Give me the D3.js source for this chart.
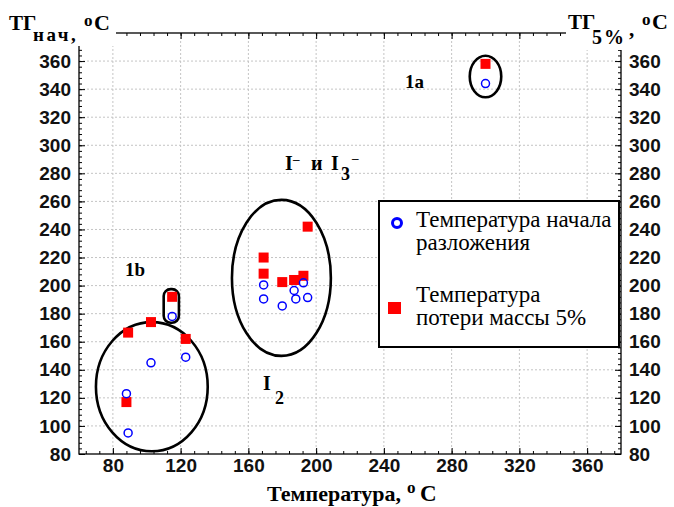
<!DOCTYPE html>
<html>
<head>
<meta charset="utf-8">
<script src="https://d3js.org/d3.v7.min.js"></script>
<style>
  body { margin: 0; background: #fff; }
  .tick-label { font-family: "Liberation Sans", Arial, sans-serif; font-weight: bold; font-size: 19px; fill: #111; }
  .serif { font-family: "Liberation Serif", "Times New Roman", serif; }
</style>
</head>
<body>
<svg id="chart" width="674" height="507"></svg>
<script>
// start of decomposition (open circles)
const startX = [115, 102.5, 123, 88, 89, 169, 169, 180, 187, 192.5, 188, 195, 300];
const startY = [178, 145, 149, 123, 95, 200.5, 190.5, 185.5, 196.5, 202, 190.5, 191.5, 344];
// 5% mass loss (red squares)
const lossX = [115, 102.5, 89, 123, 88, 195, 169, 169, 180, 187, 192.5, 300];
const lossY = [192, 174, 166.5, 162, 117, 242, 220, 208.5, 202.5, 204, 207, 358];
// tick values
const xTicks = [80, 120, 160, 200, 240, 280, 320, 360];
const yTicks = d3.range(80, 361, 20);
// group outlines, in data units
const groupEllipses = [
  {cx: 103, cy: 128, rx: 33, ry: 46},
  {cx: 179.5, cy: 205.5, rx: 29.2, ry: 55.6},
  {cx: 300, cy: 349, rx: 9.3, ry: 14.8}
];
const groupCapsule = {x0: 110, x1: 119, y0: 173.5, y1: 197.5};

const svg = d3.select("#chart");
const x = d3.scaleLinear([60, 380], [79, 621]);
const y = d3.scaleLinear([80, 380], [454, 33]);

// grid
const grid = svg.append("g").attr("stroke", "#c4c4c4").attr("stroke-dasharray", "2,2").attr("stroke-width", 1);
grid.selectAll(".gx").data(xTicks).join("line")
  .attr("x1", d => x(d)).attr("x2", d => x(d)).attr("y1", y(380)).attr("y2", y(80));
grid.selectAll(".gy").data(yTicks.filter(d => d > 80)).join("line")
  .attr("y1", d => y(d)).attr("y2", d => y(d)).attr("x1", x(60)).attr("x2", x(380));

// axes with inside ticks
function addAxis(axisFn, scale, tr, major, minor, labels) {
  const gMin = svg.append("g").attr("transform", tr)
    .call(axisFn(scale).tickValues(minor).tickSize(-3).tickFormat(""));
  gMin.select(".domain").remove();
  const g = svg.append("g").attr("transform", tr)
    .call(axisFn(scale).tickValues(major).tickSize(-6).tickPadding(8).tickFormat(labels ? d3.format("d") : ""));
  g.select(".domain").remove();
  g.selectAll("text").attr("class", "tick-label");
  g.attr("font-size", null).attr("font-family", null);
  return g;
}
const yMinor = d3.range(80, 381, 4);
const xMinor = d3.range(64, 380, 8);
addAxis(d3.axisLeft, y, `translate(${x(60)},0)`, yTicks, yMinor, true);
addAxis(d3.axisRight, y, `translate(${x(380)},0)`, yTicks, yMinor, true);
addAxis(d3.axisBottom, x, `translate(0,${y(80)})`, xTicks, xMinor, true)
  .selectAll("text").attr("dy", "0.5em");
addAxis(d3.axisTop, x, `translate(0,${y(380)})`, xTicks, xMinor, false);

// frame
svg.append("rect").attr("x", x(60)).attr("y", y(380))
  .attr("width", x(380) - x(60)).attr("height", y(80) - y(380))
  .attr("fill", "none").attr("stroke", "#000").attr("stroke-width", 1.3);

// group outlines
svg.selectAll(".grp").data(groupEllipses).join("ellipse")
  .attr("cx", d => x(d.cx)).attr("cy", d => y(d.cy))
  .attr("rx", d => x(d.cx + d.rx) - x(d.cx)).attr("ry", d => y(d.cy) - y(d.cy + d.ry))
  .attr("fill", "none").attr("stroke", "#000").attr("stroke-width", 2.6);
svg.append("rect")
  .attr("x", x(groupCapsule.x0)).attr("y", y(groupCapsule.y1))
  .attr("width", x(groupCapsule.x1) - x(groupCapsule.x0)).attr("height", y(groupCapsule.y0) - y(groupCapsule.y1))
  .attr("rx", 7).attr("fill", "none").attr("stroke", "#000").attr("stroke-width", 2.6);

// markers
const sq = 10;
svg.selectAll(".loss").data(d3.range(lossX.length)).join("rect")
  .attr("x", i => x(lossX[i]) - sq / 2).attr("y", i => y(lossY[i]) - sq / 2)
  .attr("width", sq).attr("height", sq).attr("fill", "#ff0000");
svg.selectAll(".start").data(d3.range(startX.length)).join("circle")
  .attr("cx", i => x(startX[i])).attr("cy", i => y(startY[i])).attr("r", 4)
  .attr("fill", "none").attr("stroke", "#0000ff").attr("stroke-width", 1.5);

// text helper: bold serif with positioned tspans
function label(px, py, parts, size) {
  const t = svg.append("text").attr("class", "serif").attr("font-weight", "bold")
    .attr("font-size", size).attr("x", px).attr("y", py);
  parts.forEach(p => {
    const s = t.append("tspan").text(p.t);
    if (p.x != null) s.attr("x", p.x);
    if (p.y != null) s.attr("y", p.y);
    if (p.fs) s.attr("font-size", p.fs);
    if (p.ls) s.attr("letter-spacing", p.ls);
  });
  return t;
}
label(405, 88, [{t: "1a"}], 19);
label(125, 276, [{t: "1b"}], 19);
label(285, 170, [
  {t: "I"}, {t: "\u2013", x: 293, y: 163, fs: 13},
  {t: "и", x: 311, y: 170}, {t: "I", x: 331, y: 170},
  {t: "3", x: 341, y: 180, fs: 18}, {t: "\u2013", x: 352, y: 162, fs: 13}
], 20);
label(263, 390, [{t: "I"}, {t: "2", x: 275, y: 404, fs: 18}], 20);

// legend
const lg = svg.append("g");
lg.append("rect").attr("x", 379).attr("y", 201).attr("width", 240).attr("height", 146)
  .attr("fill", "#fff").attr("stroke", "#000").attr("stroke-width", 2);
lg.append("circle").attr("cx", 397).attr("cy", 223).attr("r", 4.5)
  .attr("fill", "none").attr("stroke", "#0000ff").attr("stroke-width", 3);
lg.append("rect").attr("x", 388).attr("y", 302).attr("width", 13).attr("height", 12).attr("fill", "#ff0000");
const legendLines = [["Температура начала", 227], ["разложения", 250], ["Температура", 302], ["потери массы 5%", 325]];
lg.selectAll(".lt").data(legendLines).join("text").attr("class", "serif")
  .attr("x", 416).attr("y", d => d[1]).attr("font-size", 23).text(d => d[0]);

// axis titles
svg.append("rect").attr("x", 0).attr("y", 0).attr("width", 116).attr("height", 46).attr("fill", "#fff");
svg.append("rect").attr("x", 566).attr("y", 0).attr("width", 108).attr("height", 50).attr("fill", "#fff");
label(9, 30, [
  {t: "ТГ"}, {t: "нач,", x: 33, y: 41, fs: 19, ls: 2.5},
  {t: "o", x: 84, y: 26, fs: 17}, {t: "С", x: 94, y: 30, fs: 22}
], 21);
label(568, 29, [
  {t: "ТГ"}, {t: "5%", x: 592, y: 44, fs: 20, ls: 2}, {t: ",", x: 629, y: 36},
  {t: "o", x: 642, y: 25, fs: 17}, {t: "С", x: 652, y: 29, fs: 22}
], 21);
label(267, 501, [
  {t: "Температура,"}, {t: "o", x: 407, y: 493, fs: 17}, {t: "С", x: 420, y: 501, fs: 23}
], 22);
</script>
</body>
</html>
